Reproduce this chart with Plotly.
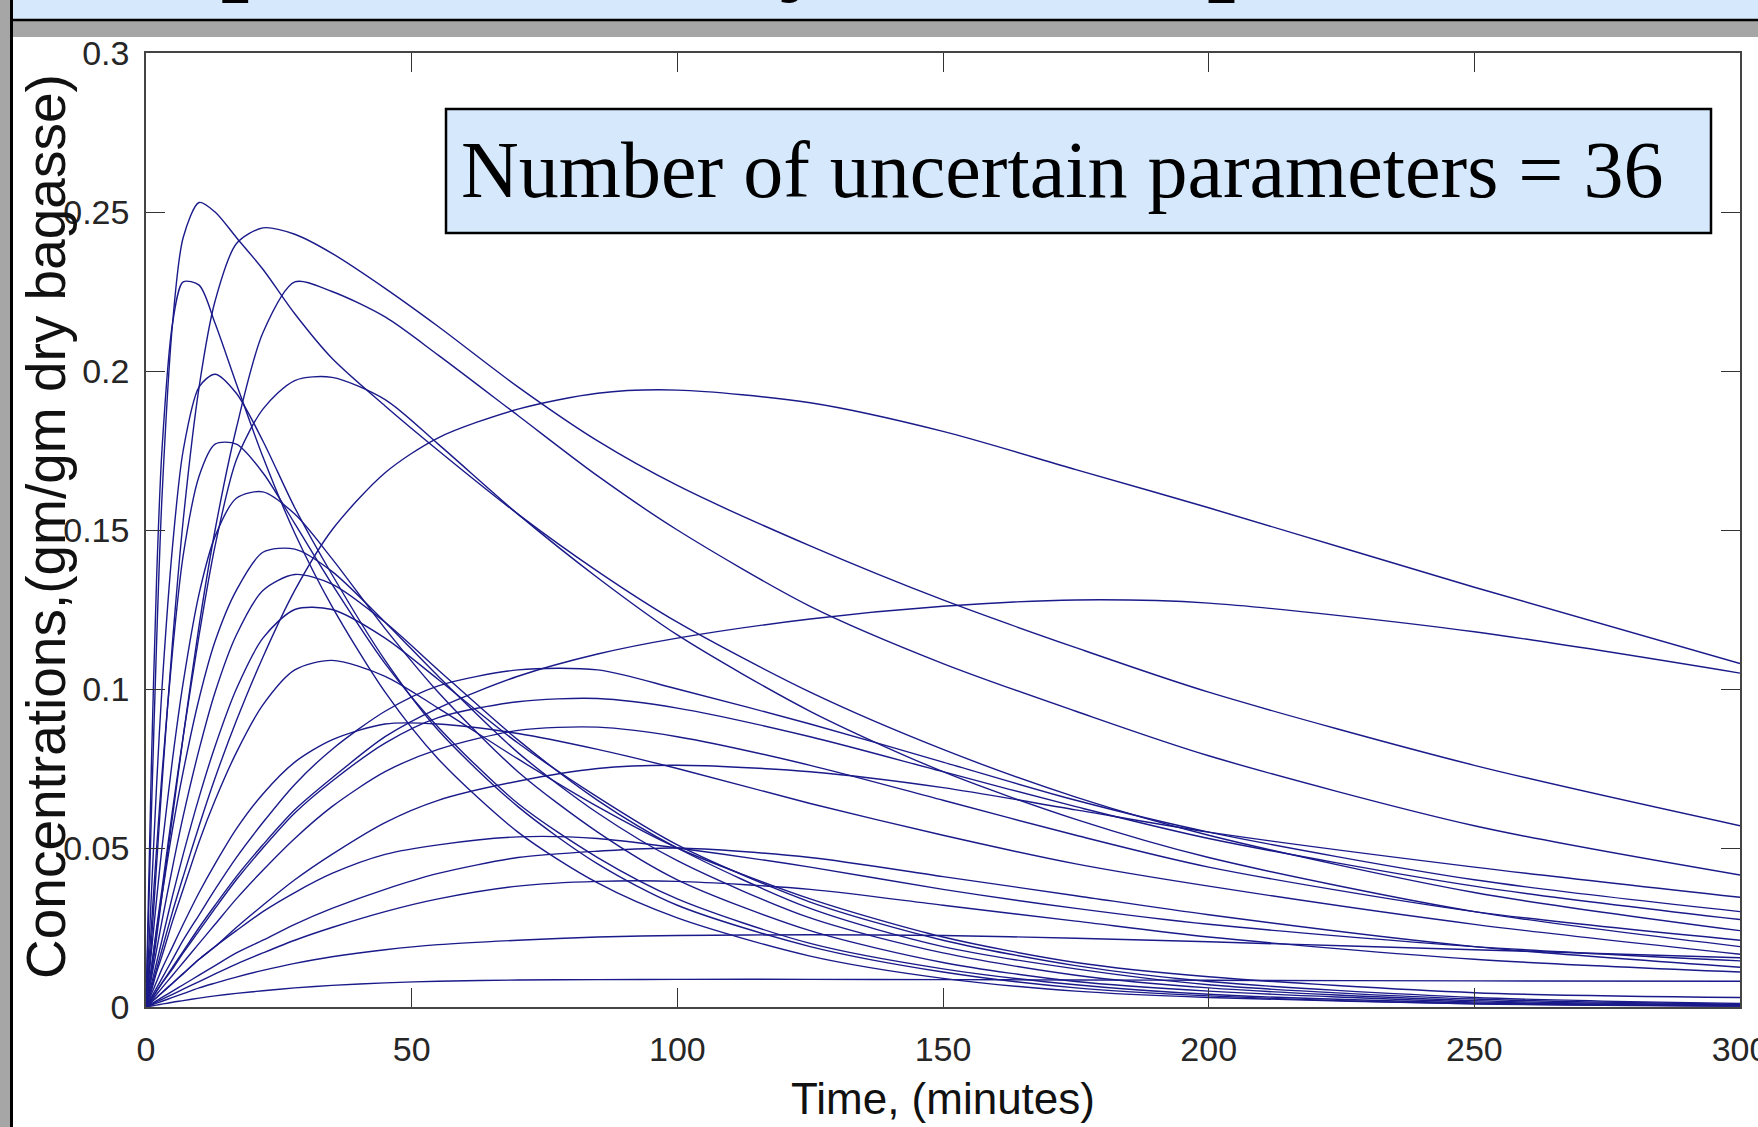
import plotly.graph_objects as go

# ---------------- data ----------------
time_min = [0, 1, 2, 3, 5, 7, 10, 13, 17, 22, 28, 35, 45, 55, 70, 85, 100, 125, 150, 175, 200, 250, 300]

# long-lived, high curves
c_peak253 = [0, 0.06, 0.115, 0.16, 0.215, 0.242, 0.253, 0.250, 0.242, 0.232, 0.218, 0.204, 0.189, 0.175, 0.155, 0.137, 0.121, 0.099, 0.081, 0.066, 0.054, 0.036, 0.024]
c_peak245 = [0, 0.02, 0.045, 0.07, 0.115, 0.153, 0.195, 0.222, 0.240, 0.245, 0.243, 0.237, 0.226, 0.214, 0.195, 0.178, 0.164, 0.145, 0.128, 0.113, 0.099, 0.076, 0.057]
c_peak228 = [0, 0.01, 0.022, 0.035, 0.06, 0.085, 0.12, 0.15, 0.182, 0.212, 0.228, 0.225, 0.217, 0.205, 0.186, 0.167, 0.150, 0.126, 0.108, 0.093, 0.079, 0.057, 0.0415]
c_peak199b = [0, 0.012, 0.025, 0.037, 0.062, 0.085, 0.117, 0.145, 0.172, 0.188, 0.197, 0.198, 0.191, 0.177, 0.155, 0.135, 0.117, 0.093, 0.074, 0.059, 0.047, 0.030, 0.019]
c_broad194 = [0, 0.006, 0.012, 0.018, 0.03, 0.041, 0.057, 0.072, 0.09, 0.11, 0.131, 0.15, 0.168, 0.179, 0.188, 0.193, 0.194, 0.19, 0.181, 0.169, 0.157, 0.132, 0.108]
c_broad128 = [0, 0.0025, 0.005, 0.0075, 0.0125, 0.0175, 0.025, 0.032, 0.041, 0.051, 0.062, 0.072, 0.085, 0.094, 0.104, 0.111, 0.116, 0.122, 0.126, 0.128, 0.127, 0.118, 0.105]

# fast curves (early peak, decay to ~0)
c_fast229 = [0, 0.075, 0.135, 0.175, 0.215, 0.228, 0.227, 0.215, 0.196, 0.173, 0.149, 0.126, 0.099, 0.078, 0.055, 0.039, 0.028, 0.016, 0.009, 0.005, 0.003, 0.001, 0.0003]
c_fast199 = [0, 0.035, 0.07, 0.1, 0.145, 0.175, 0.195, 0.199, 0.193, 0.178, 0.157, 0.136, 0.109, 0.087, 0.063, 0.045, 0.032, 0.019, 0.011, 0.006, 0.0035, 0.001, 0.0003]
c_fast178 = [0, 0.025, 0.05, 0.073, 0.112, 0.142, 0.167, 0.177, 0.177, 0.168, 0.152, 0.133, 0.108, 0.088, 0.064, 0.047, 0.034, 0.02, 0.012, 0.007, 0.004, 0.0013, 0.0004]
c_fast163 = [0, 0.017, 0.034, 0.05, 0.078, 0.102, 0.13, 0.148, 0.16, 0.162, 0.155, 0.141, 0.119, 0.099, 0.074, 0.055, 0.04, 0.024, 0.014, 0.008, 0.005, 0.0016, 0.0005]
c_fast145 = [0, 0.012, 0.024, 0.035, 0.056, 0.074, 0.097, 0.115, 0.131, 0.143, 0.144, 0.137, 0.121, 0.104, 0.08, 0.061, 0.046, 0.028, 0.017, 0.01, 0.006, 0.002, 0.0007]
c_fast136 = [0, 0.009, 0.018, 0.027, 0.044, 0.06, 0.081, 0.099, 0.117, 0.131, 0.136, 0.133, 0.121, 0.106, 0.084, 0.065, 0.05, 0.031, 0.019, 0.012, 0.007, 0.0025, 0.0009]
c_fast126 = [0, 0.007, 0.014, 0.021, 0.035, 0.048, 0.066, 0.082, 0.1, 0.116, 0.125, 0.125, 0.116, 0.103, 0.083, 0.066, 0.051, 0.033, 0.021, 0.013, 0.008, 0.003, 0.0011]
c_fast109 = [0, 0.005, 0.011, 0.016, 0.027, 0.037, 0.052, 0.065, 0.08, 0.095, 0.106, 0.109, 0.104, 0.094, 0.078, 0.063, 0.05, 0.034, 0.022, 0.014, 0.0095, 0.0045, 0.003]

# middle / low broad curves
c_mid089a = [0, 0.004, 0.008, 0.012, 0.019, 0.026, 0.036, 0.045, 0.056, 0.067, 0.077, 0.084, 0.089, 0.089, 0.086, 0.081, 0.075, 0.064, 0.054, 0.045, 0.038, 0.026, 0.0166]
c_mid107 = [0, 0.003, 0.006, 0.009, 0.015, 0.021, 0.029, 0.037, 0.047, 0.058, 0.07, 0.081, 0.093, 0.101, 0.106, 0.106, 0.1, 0.089, 0.077, 0.065, 0.055, 0.04, 0.03]
c_mid097 = [0, 0.0025, 0.005, 0.0075, 0.012, 0.017, 0.024, 0.031, 0.04, 0.05, 0.061, 0.071, 0.083, 0.091, 0.096, 0.097, 0.094, 0.085, 0.074, 0.063, 0.053, 0.038, 0.0275]
c_mid088 = [0, 0.002, 0.004, 0.006, 0.01, 0.014, 0.02, 0.026, 0.034, 0.043, 0.053, 0.063, 0.074, 0.081, 0.087, 0.088, 0.085, 0.076, 0.065, 0.054, 0.044, 0.03, 0.021]
c_mid076 = [0, 0.0015, 0.003, 0.0045, 0.0075, 0.0105, 0.015, 0.019, 0.025, 0.032, 0.04, 0.048, 0.058, 0.065, 0.071, 0.075, 0.076, 0.074, 0.069, 0.062, 0.055, 0.044, 0.0345]
c_low054 = [0, 0.0015, 0.003, 0.0045, 0.0075, 0.0105, 0.015, 0.019, 0.024, 0.03, 0.036, 0.042, 0.048, 0.051, 0.0535, 0.053, 0.05, 0.044, 0.037, 0.031, 0.026, 0.019, 0.0145]
c_low050 = [0, 0.001, 0.002, 0.003, 0.005, 0.007, 0.01, 0.013, 0.017, 0.021, 0.026, 0.031, 0.037, 0.042, 0.047, 0.049, 0.05, 0.047, 0.041, 0.035, 0.029, 0.019, 0.0125]
c_low040 = [0, 0.0008, 0.0016, 0.0024, 0.004, 0.0056, 0.008, 0.0104, 0.0135, 0.017, 0.021, 0.025, 0.03, 0.034, 0.038, 0.0395, 0.0395, 0.037, 0.032, 0.027, 0.022, 0.015, 0.011]
c_low023 = [0, 0.0006, 0.0012, 0.0018, 0.003, 0.0042, 0.006, 0.0075, 0.0094, 0.0115, 0.0137, 0.0158, 0.018, 0.0196, 0.021, 0.022, 0.0225, 0.0227, 0.0225, 0.0216, 0.0205, 0.018, 0.0155]
c_low009 = [0, 0.0003, 0.0006, 0.0009, 0.0015, 0.002, 0.0028, 0.0035, 0.0043, 0.0051, 0.006, 0.0068, 0.0076, 0.0081, 0.0085, 0.0086, 0.0087, 0.0087, 0.0086, 0.0085, 0.0084, 0.0082, 0.0081]

all_series = [c_broad194, c_broad128, c_peak253, c_peak245, c_peak228, c_peak199b,
              c_fast229, c_fast199, c_fast178, c_fast163, c_fast145, c_fast136, c_fast126, c_fast109,
              c_mid089a, c_mid107, c_mid097, c_mid088, c_mid076,
              c_low054, c_low050, c_low040, c_low023, c_low009]

x_ticks = [0, 50, 100, 150, 200, 250, 300]
y_ticks = [0, 0.05, 0.1, 0.15, 0.2, 0.25, 0.3]
y_tick_text = ["0", "0.05", "0.1", "0.15", "0.2", "0.25", "0.3"]

x_title = "Time, (minutes)"
y_title = "Concentrations,(gm/gm dry bagasse)"
box_text = "Number of uncertain parameters = 36"
slide_title = "Sample Variability and Output Concentrations"

# ---------------- layout geometry ----------------
W, H = 1758, 1127
ML, MR, MT, MB = 146, 18, 53, 120
PW, PH = W - ML - MR, H - MT - MB


def px2x(px):
    return (px - ML) / PW


def py2y(py):
    return (H - MB - py) / PH


LINE_COLOR = "#1a1a8a"
SANS = "Liberation Sans, Arial, Helvetica, sans-serif"
SERIF = "Liberation Serif, Times New Roman, serif"
BLUE_FILL = "#d5e8fc"

fig = go.Figure()
for s in all_series:
    fig.add_trace(go.Scatter(
        x=time_min, y=s, mode="lines",
        line=dict(color=LINE_COLOR, width=1.4, shape="spline", smoothing=0.8),
        showlegend=False, hoverinfo="skip"))

shapes = [
    # header light-blue band
    dict(type="rect", xref="paper", yref="paper", x0=px2x(-5), x1=px2x(W + 5), y0=py2y(20), y1=py2y(-30),
         fillcolor=BLUE_FILL, line=dict(width=0), layer="below"),
    # gray band
    dict(type="rect", xref="paper", yref="paper", x0=px2x(-5), x1=px2x(W + 5), y0=py2y(37), y1=py2y(20),
         fillcolor="#a6a6a6", line=dict(width=0), layer="above"),
    # black separator
    dict(type="line", xref="paper", yref="paper", x0=px2x(-5), x1=px2x(W + 5), y0=py2y(20), y1=py2y(20),
         line=dict(color="black", width=2.5), layer="above"),
    # left gray border
    dict(type="rect", xref="paper", yref="paper", x0=px2x(-5), x1=px2x(10), y0=py2y(H + 5), y1=py2y(-5),
         fillcolor="#a6a6a6", line=dict(width=0), layer="above"),
    dict(type="line", xref="paper", yref="paper", x0=px2x(11.5), x1=px2x(11.5), y0=py2y(H + 5), y1=py2y(-5),
         line=dict(color="black", width=3), layer="above"),
    # callout box
    dict(type="rect", xref="paper", yref="paper", x0=px2x(446), x1=px2x(1711), y0=py2y(233), y1=py2y(109),
         fillcolor=BLUE_FILL, line=dict(color="black", width=2.5), layer="above"),
]

annotations = [
    dict(text=box_text, xref="paper", yref="paper", x=px2x(1062), y=py2y(170),
         xanchor="center", yanchor="middle", showarrow=False,
         font=dict(family=SERIF, size=80, color="black")),
    dict(text=x_title, xref="paper", yref="paper", x=px2x(943), y=py2y(1098),
         xanchor="center", yanchor="middle", showarrow=False,
         font=dict(family=SANS, size=44, color="#111111")),
    dict(text=y_title, xref="paper", yref="paper", x=px2x(46), y=py2y(527),
         xanchor="center", yanchor="middle", showarrow=False, textangle=-90,
         font=dict(family=SANS, size=55, color="#111111")),
    dict(text="<b>" + slide_title + "</b>", xref="paper", yref="paper", x=px2x(30), y=py2y(6),
         xanchor="left", yanchor="bottom", showarrow=False,
         font=dict(family=SERIF, size=100, color="black")),
]

axis_common = dict(
    showgrid=False, zeroline=False, showline=True, linecolor="#444444", linewidth=1.5,
    ticks="inside", ticklen=19, tickwidth=1, tickcolor="#333333", mirror="ticks",
    tickfont=dict(family=SANS, size=34, color="#262626"),
    ticklabeloverflow="allow", automargin=False,
)

fig.update_layout(
    width=W, height=H,
    margin=dict(l=ML, r=MR, t=MT, b=MB, pad=0, autoexpand=False),
    paper_bgcolor="white", plot_bgcolor="white",
    xaxis=dict(range=[0, 300], tickvals=x_ticks, ticklabelstandoff=11, **axis_common),
    yaxis=dict(range=[0, 0.3], tickvals=y_ticks, ticktext=y_tick_text, ticklabelstandoff=8, **axis_common),
    shapes=shapes, annotations=annotations, showlegend=False,
)

fig.write_html("out.html", config={"displayModeBar": False})
